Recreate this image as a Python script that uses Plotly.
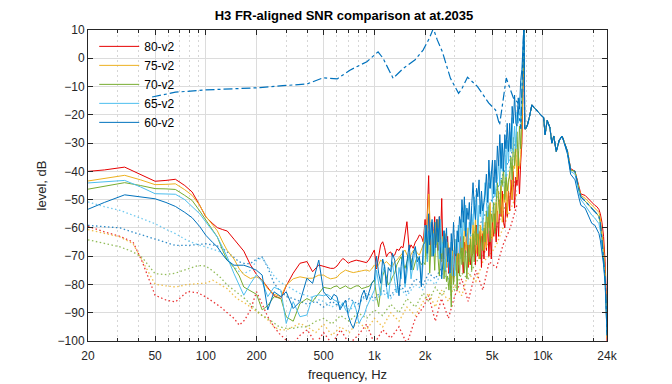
import math
import plotly.graph_objects as go

# ---------------- frequency grids (Hz) ----------------
F_LOW = [20, 25, 33, 41, 50, 58, 66, 75, 83, 92, 100, 110, 117, 126, 134, 147, 158, 168, 184, 200,
         216, 233, 254, 279, 300, 330, 362, 398, 430, 468]
F_MID = [500, 525, 550, 575, 600, 625, 650, 675, 700, 725, 750, 780, 810, 840, 870, 900, 935, 965]
F_K1 = [1000, 1030, 1060, 1090, 1120, 1150, 1180, 1210, 1250, 1280, 1320, 1360, 1400, 1440, 1480,
        1520, 1560, 1610, 1650, 1700, 1750, 1800, 1850, 1900, 1950]
F_K2 = [2000, 2030, 2060, 2100, 2130, 2170, 2200, 2240, 2280, 2310,
        2350, 2390, 2430, 2470, 2510, 2550, 2590, 2630, 2680, 2720,
        2770, 2810, 2860, 2900, 2950, 3000, 3050, 3100, 3150, 3200,
        3260, 3310, 3370, 3420, 3480, 3540, 3600, 3660, 3720, 3780,
        3850, 3910, 3980, 4040, 4110, 4180, 4250, 4320, 4390, 4470,
        4540, 4620, 4700, 4780, 4860, 4940, 5020, 5110, 5190, 5280,
        5370, 5460, 5550, 5650, 5740, 5840, 5940, 6040, 6140, 6250,
        6350, 6460, 6570, 6680, 6790, 6910, 7020, 7140, 7260, 7380,
        7500, 7600, 7680, 7720, 7760, 7800]
F_HF = [7900, 8100, 8300, 8600, 8900, 9300, 9700, 10100, 10300, 10600, 11000, 11300, 11600, 12000,
        12500, 13000, 13500, 14000, 14600, 15500, 16300, 16800, 17800, 18800, 19500, 20300, 20900,
        21500, 21900, 22400, 22900, 23400, 23800, 24000]
FREQ = F_LOW + F_MID + F_K1 + F_K2 + F_HF

# ---------------- solid series (dB) ----------------
S80 = [-40, -39.5, -38.5, -41, -43.5, -43.2, -42.8, -45, -47.3, -52,
       -56.1, -58.5, -59.9, -60.6, -61.1, -64, -66.5, -68.2, -73.1, -76.5,
       -78.5, -81, -84, -85, -80.5, -76, -72.5, -71.9, -75.5, -73.1,
       # 500-965
       -73.7, -74, -74.3, -74.3, -73.5, -72, -70.8, -71.5, -72.5, -72, -71.6, -71.4, -71.6, -71.9,
       -72, -72.3, -71, -69.5,
       # 1k-1.95k
       -67.8, -74.5, -70, -66, -64.9, -67, -70.2, -69, -68.5, -70, -69.6, -67.5, -68, -66.6, -67,
       -62, -57.8, -67.8, -66, -67.2, -65, -64, -62.5, -63, -65,
       # 2k-7.8k
       -57, -65, -55, -41.5, -60, -70, -58, -64, -56, -67,
       -57, -68, -56, -64, -49.6, -68, -71, -64, -70, -63,
       -76, -67, -75, -66, -79, -69, -72, -66, -76, -66,
       -63, -71, -76, -65, -68, -62, -74, -66, -73, -70,
       -69, -63, -73, -59, -70, -65, -61, -74, -62, -71,
       -61, -68, -58, -70, -61, -71, -58, -63, -55, -65,
       -54, -63, -50, -56, -47, -58, -60, -51, -56, -47,
       -54, -43, -50, -40, -53, -42, -45, -38, -48, -37,
       -30, -15, 0, 12, -4, -25,
       # 7.9k-24k
       -25, -23.5, -21, -16.5, -17.5, -19, -20, -21, -27, -22,
       -24.5, -30, -27.5, -33, -29, -27.5, -30.5, -33, -39, -40,
       -45, -48, -48.5, -50, -51, -52, -52.5, -53.5, -55, -58,
       -63, -72, -85, -100]

S75 = [-43.4, -42.5, -41.4, -43, -44.7, -44.6, -44.4, -46.5, -48.5, -52,
       -55.9, -59, -61, -65, -68, -71, -74.5, -76.5, -77.9, -77.3,
       -78.5, -81.5, -83.5, -84.3, -80.2, -78, -77.3, -77.8, -77.8, -76.7,
       -76.7, -77.5, -78, -77.8, -77.5, -76.2, -75.5, -74.9, -75.3, -75.5, -75.8, -75.6, -75.5, -75.2,
       -75, -74.9, -75.3, -74.5,
       -73.1, -74, -73, -71.4, -72, -72.5, -71.9, -72.5, -73.5, -73.7, -72, -71.4, -70.5, -69.5, -68.5,
       -67.8, -69.5, -70.8, -69.5, -68, -67.8, -69, -69.6, -68, -66,
       -60, -70, -57, -48, -55, -67, -69, -61, -66, -58,
       -66, -57, -66, -57, -72, -63, -67, -62, -74, -65,
       -68, -76, -80, -68, -71, -64, -75, -67, -73, -69,
       -68, -62, -72, -58, -69, -64, -60, -73, -61, -70,
       -58, -66, -56, -69, -61, -71, -59, -65, -57, -68,
       -58, -67, -54, -60, -51, -62, -64, -55, -60, -51,
       -58, -47, -55, -45, -58, -48, -51, -44, -55, -44,
       -40, -47, -50, -38, -39, -32, -43, -33, -39, -34,
       -25, -10, 2, 12, -3, -25,
       -25, -23.5, -21, -16.5, -17.5, -19, -20, -21, -27, -22,
       -24.5, -30, -27.5, -33, -29, -27.5, -30.5, -33, -39.5, -40,
       -45.5, -48.5, -49.5, -51, -52, -53, -54, -54.5, -56.5, -61,
       -67, -75, -87, -99]

S70 = [-46.3, -45.2, -44, -45, -46.1, -46.2, -46.4, -48.5, -50.3, -54,
       -57.3, -61, -63.2, -68, -71.4, -74, -77, -80.9, -82.2, -83.5,
       -89, -87.5, -84.3, -85, -91.5, -93, -86.7, -85, -86, -83,
       -81, -81.3, -81.5, -80.8, -80.5, -81.5, -81, -80.5, -81.2, -81.5, -81, -80.5, -80.5, -81.5,
       -81.2, -81, -80.6, -79.5,
       -78.4, -84, -87.9, -82, -77, -74.9, -78, -80.2, -79, -77.3, -76, -73, -71.5, -70.2, -72.5,
       -74.3, -72, -69.6, -71, -74.9, -72, -70.2, -71.5, -73, -72,
       -73, -63, -71, -62, -76, -66, -70, -64, -75, -65,
       -62, -71, -77, -67, -71, -65, -78, -71, -79, -77,
       -82, -76, -88, -70, -80, -74, -70, -82, -69, -77,
       -65, -73, -63, -76, -68, -78, -66, -72, -64, -75,
       -62, -72, -59, -66, -57, -69, -71, -63, -68, -60,
       -65, -54, -62, -52, -65, -55, -58, -51, -62, -51,
       -44, -51, -55, -43, -45, -39, -50, -41, -47, -43,
       -42, -35, -43, -28, -38, -31, -26, -38, -24, -32,
       -20, -6, 4, 12, -2, -25,
       -25, -23.5, -21, -16.5, -17.5, -19, -20, -21, -27, -22,
       -24.5, -30, -27.5, -33, -29, -27.5, -30.5, -33, -39.5, -40,
       -46, -49, -50.5, -52, -53, -54, -55, -56, -58.4, -64,
       -70, -78, -89, -98]

S65 = [-44.1, -43.6, -43.2, -45.5, -47.9, -48, -48.1, -50, -52.6, -55,
       -57.9, -61, -63.2, -67, -70.3, -76.2, -80, -83.8, -79.7, -76.5,
       -79.1, -84.3, -81, -82, -93.8, -86.1, -91.4, -90.8, -84.3, -83.7,
       -84, -83.5, -84.3, -85.5, -86, -87.9, -86.5, -89, -90.2, -88, -86, -89, -93.8, -92,
       -90.8, -88, -86, -84,
       -82, -75, -80, -84, -76, -73, -81, -85, -77, -72, -79, -83, -74, -78, -70,
       -81, -76, -69, -78, -73, -67, -75, -70, -80, -72,
       -59, -67, -72, -61, -64, -58, -70, -62, -69, -66,
       -65, -60, -71, -57, -69, -65, -61, -75, -64, -74,
       -69, -76, -65, -77, -68, -77, -64, -69, -59, -69,
       -57, -67, -54, -61, -52, -64, -66, -58, -63, -55,
       -59, -49, -57, -48, -62, -52, -56, -50, -61, -51,
       -44, -51, -56, -44, -46, -40, -51, -42, -49, -45,
       -43, -36, -45, -30, -40, -35, -30, -42, -29, -37,
       -26, -33, -21, -33, -24, -32, -19, -23, -14, -23,
       -10, -3, 6, 12, 0, -25,
       -25, -23.5, -21, -16.5, -17.5, -19, -20, -21, -27, -22,
       -24.5, -30, -27.5, -33, -29, -27.5, -30.5, -33.5, -40, -41,
       -47, -50, -52, -54, -55.5, -56.5, -57.5, -58.5, -61, -66,
       -72, -79, -90, -98]

S60 = [-53.4, -51, -48.3, -49, -49.7, -51, -52.4, -54.5, -56.4, -59.5,
       -62.6, -65.2, -66.7, -69.5, -71.5, -73.2, -73.1, -73.2, -74, -75,
       -76.7, -89, -82.6, -84.3, -82.6, -88.5, -86.1, -77.8, -79.6, -71.4,
       -82.6, -84, -85.5, -83.5, -84.3, -89, -87, -85.5, -91, -93.8, -95.5, -92, -89, -84,
       -82, -85.5, -82, -79.6,
       -78.4, -70, -76, -79.6, -71, -73.7, -80.8, -74, -75.5, -69, -71.4, -79, -84, -73.7, -68,
       -79.6, -72, -66, -74.9, -69, -66.6, -72, -70.2, -80.8, -66,
       -65, -59, -69, -55, -66, -61, -57, -70, -58, -67,
       -57, -65, -56, -69, -78, -72, -61, -67, -60, -72,
       -67, -76, -62, -68, -58, -69, -70, -61, -65, -56,
       -60, -50, -58, -49, -63, -53, -57, -51, -62, -52,
       -44, -52, -57, -46, -49, -43, -55, -47, -54, -51,
       -48, -41, -51, -36, -46, -41, -36, -48, -36, -44,
       -31, -38, -27, -39, -30, -40, -27, -32, -23, -33,
       -23, -32, -17, -23, -13, -23, -24, -14, -18, -8,
       -4, 3, 8, 12, 2, -25,
       -25, -23.5, -21, -16.5, -17.5, -19, -20, -21, -27, -22,
       -24.5, -30, -27.5, -33, -29, -27.5, -31, -34, -41, -43,
       -49, -52, -53, -56, -58.4, -59, -60.7, -62, -64.3, -68,
       -73, -80, -90, -97]

# ---------------- dotted series (dB) ----------------
FD = [20, 25, 31, 37, 42, 50, 58, 66, 78, 90, 100, 110, 122, 134, 147, 158, 170, 184, 200, 216,
      233, 254, 273, 300, 330, 362, 400, 450, 500, 560, 630, 710, 800, 900, 1000, 1120, 1250, 1400,
      1560, 1750, 1950, 2100, 2300, 2500, 2750, 3000, 3300, 3600, 4000, 4400, 4800, 5300, 5800,
      6400, 7000]
D80 = [-59.4, -61.4, -63, -65, -72, -83.8, -85.5, -86.2, -82.5, -83,
       -84.4, -86, -87.9, -90, -92, -94.4, -92.6, -89, -82.6, -87,
       -91.4, -95, -97.4, -99.7, -101, -98, -96, -101, -97, -101,
       -96, -101, -98, -94, -101, -96, -99, -95, -101, -92,
       -88, -84, -93, -85, -92, -84, -78, -86, -75, -82,
       -72, -74, -66, -60, -52]
D75 = [-60.6, -62, -63.2, -65.6, -71.5, -79.9, -80.5, -80.9, -80, -79.6,
       -79.5, -78.5, -80, -81.5, -84, -85.5, -86.5, -88, -89.5, -90.8,
       -92.5, -95, -96, -96.1, -95, -93.8, -95, -97, -94, -98,
       -95, -97, -93, -96, -92, -95, -90, -93, -88, -91,
       -86, -83, -88, -82, -86, -80, -84, -76, -79, -72,
       -70, -66, -60, -54, -48]
D70 = [-64.2, -65.5, -66.7, -68.5, -70.5, -76.2, -76.5, -76, -74.4, -73.3,
       -73.5, -75.2, -77.5, -80.2, -82, -83.5, -85, -87, -89, -91,
       -92, -93.5, -95, -95.5, -95.5, -95, -95, -93, -92, -94,
       -91, -93, -90, -92, -89, -91, -87, -90, -85, -88,
       -83, -86, -81, -84, -80, -82, -76, -78, -72, -70,
       -65, -60, -54, -48, -42]
D65 = [-50.8, -52.5, -53.8, -55.5, -57, -58.5, -60.5, -62, -64.5, -66,
       -66.7, -67.5, -68.5, -71, -73.8, -75.5, -76, -75, -71.5, -70.5,
       -73.5, -77, -79, -80.5, -82, -83.2, -84, -85, -86, -88,
       -86, -89, -87, -84, -86, -83, -85, -81, -84, -80,
       -82, -78, -80, -76, -78, -74, -70, -68, -64, -60,
       -56, -50, -45, -38, -32]
D60 = [-59.1, -59.6, -60, -61.5, -62.5, -63.8, -65, -66.2, -66.2, -66,
       -65.6, -66, -66.7, -68.5, -70.5, -72, -72.6, -72.6, -71, -70.3,
       -74, -79.6, -82, -84.3, -85, -86, -87, -86, -88, -86,
       -88, -85, -87, -83, -85, -82, -84, -80, -83, -78,
       -80, -76, -78, -74, -76, -72, -68, -65, -61, -57,
       -52, -47, -41, -35, -28]

# ---------------- reference response (dash-dot) ----------------
F_REF = [48, 66, 100, 160, 209, 286, 398, 497, 602, 716, 903, 1052, 1126, 1292, 1482, 1745, 1946,
         2117, 2237, 2362, 2531, 2828, 3160, 3290, 3570, 4093, 4762, 5237, 5530, 6060, 6680, 7059,
         7398, 7700, 7800] + F_HF
V_REF = [-13.7, -12, -11.2, -10.6, -10.4, -9.7, -9.1, -6.9, -7.3, -4.2,
         -1.2, 2.3, 0, -7.1, -3.6, -0.5, 2.9, 7, 10.5, 6.5,
         2.3, -7.1, -12.4, -11, -6.7, -10, -15.8, -18.3, -23.6, -7,
         -14, -15.5, -25, 12, -25,
         -25, -23.5, -21, -16.5, -17.5, -19, -20, -21, -27, -22,
         -24.5, -30, -27.5, -33, -29, -27.5, -30.5, -33, -39.5, -40,
         -46, -49, -50.5, -52, -53, -54, -55, -56, -58.4, -64,
         -70, -78, -89, -98]

SERIES_NAMES = ["80-v2", "75-v2", "70-v2", "65-v2", "60-v2"]
SERIES_COLORS = ["#E60000", "#EDB120", "#77AC30", "#4DBEEE", "#0072BD"]

X_TICKS = [20, 50, 100, 200, 500, 1000, 2000, 5000, 10000, 24000]
X_LABELS = ["20", "50", "100", "200", "500", "1k", "2k", "5k", "10k", "24k"]
X_MINOR = [30, 40, 60, 70, 80, 90, 300, 400, 600, 700, 800, 900,
           3000, 4000, 6000, 7000, 8000, 9000, 20000]

solids = [S80, S75, S70, S65, S60]
dotted = [D80, D75, D70, D65, D60]
for i, s in enumerate(solids):
    if len(s) != len(FREQ):
        raise ValueError(f"solid {i} length {len(s)} != {len(FREQ)}")
for i, d in enumerate(dotted):
    if len(d) != len(FD):
        raise ValueError(f"dotted {i} length {len(d)} != {len(FD)}")
if len(F_REF) != len(V_REF):
    raise ValueError(f"ref length {len(V_REF)} != {len(F_REF)}")

FONT = "Liberation Sans, Arial, Helvetica, sans-serif"
fig = go.Figure()

for vals, col in zip(dotted, SERIES_COLORS):
    fig.add_trace(go.Scatter(x=FD, y=vals, mode="lines", showlegend=False, hoverinfo="skip",
                             opacity=0.8, line=dict(color=col, width=1.3, dash="1.5px,2.5px")))

for vals, col, name in zip(solids, SERIES_COLORS, SERIES_NAMES):
    fig.add_trace(go.Scatter(x=FREQ, y=vals, mode="lines", name=name,
                             line=dict(color=col, width=1)))

fig.add_trace(go.Scatter(x=F_REF, y=V_REF, mode="lines", showlegend=False, hoverinfo="skip",
                         line=dict(color="#0072BD", width=1.2, dash="dashdot")))

axis_common = dict(showline=True, linecolor="#262626", linewidth=1, mirror="allticks",
                   ticks="inside", tickcolor="#262626", zeroline=False,
                   gridcolor="#DCDCDC", gridwidth=1,
                   tickfont=dict(family=FONT, size=12, color="#262626"))

fig.update_layout(
    width=672, height=384,
    margin=dict(l=80, r=73, t=22, b=51),
    paper_bgcolor="white", plot_bgcolor="white",
    font=dict(family=FONT, size=12, color="#262626"),
    title=dict(text="<b>H3 FR-aligned SNR comparison at at.2035</b>",
               xref="container", x=0.5, xanchor="center",
               yref="container", y=1 - 7.5 / 384, yanchor="middle",
               font=dict(family=FONT, size=13, color="#000000")),
    xaxis=dict(type="log", range=[math.log10(20), math.log10(24000)],
               tickvals=X_TICKS, ticktext=X_LABELS, ticklen=5, ticklabelstandoff=4,
               minor=dict(tickvals=X_MINOR, showgrid=True, gridcolor="#D6D6D6",
                          griddash="2px,3px", ticks="inside", ticklen=3, tickcolor="#262626"),
               title=dict(text="frequency, Hz", standoff=7,
                          font=dict(family=FONT, size=13, color="#262626")),
               automargin=False, **axis_common),
    yaxis=dict(range=[-100, 10], dtick=10, ticklen=5,
               title=dict(text="level, dB", standoff=8,
                          font=dict(family=FONT, size=13, color="#262626")),
               automargin=False, **axis_common),
    legend=dict(x=0.012, y=0.994, xanchor="left", yanchor="top",
                bgcolor="rgba(0,0,0,0)", borderwidth=0,
                font=dict(family=FONT, size=12, color="#000000"),
                itemwidth=40, tracegroupgap=0),
    showlegend=True,
)

fig.write_html("out.html")
